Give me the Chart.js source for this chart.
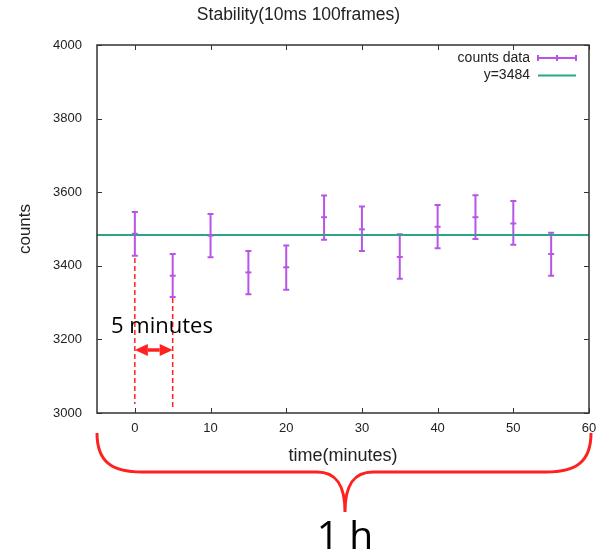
<!DOCTYPE html>
<html>
<head>
<meta charset="utf-8">
<script src="https://cdn.jsdelivr.net/npm/chart.js@4"></script>
<style>
    html, body { margin: 0; padding: 0; background: #ffffff; }
    #wrap { width: 597px; height: 553px; position: relative; }
</style>
</head>
<body>
<div id="wrap"><canvas id="stabilityChart"></canvas></div>
<script>
// values
const times = [0, 5, 10, 15, 20, 25, 30, 35, 40, 45, 50, 55];
const counts = [3487, 3373, 3482, 3382, 3396, 3532, 3499, 3424, 3506, 3532, 3515, 3432];
const countsLow = [3427, 3315, 3423, 3323, 3335, 3471, 3440, 3365, 3448, 3473, 3457, 3373];
const countsHigh = [3546, 3432, 3541, 3440, 3455, 3591, 3561, 3486, 3565, 3592, 3576, 3490];
const fitValue = 3484;
const xRange = [-5, 60];
const xTicks = [0, 10, 20, 30, 40, 50, 60];
const yRange = [3000, 4000];
const yStep = 200;

const PURPLE = '#b855e8';
const GREEN = '#2ba585';
const RED = '#ff2020';
const AXIS = '#333333';
const FONT = "'Liberation Sans', Arial, sans-serif";

// error bars, drawn through the chart scales
const errorBars = {
    id: 'errorBars',
    beforeDatasetsDraw(chart) {
        const { ctx, scales: { x, y }, chartArea } = chart;
        ctx.save();
        ctx.beginPath();
        ctx.rect(chartArea.left, chartArea.top, chartArea.width, chartArea.height);
        ctx.clip();
        ctx.strokeStyle = PURPLE;
        ctx.lineWidth = 2;
        times.forEach((t, i) => {
            const px = x.getPixelForValue(t);
            const lo = y.getPixelForValue(countsLow[i]);
            const hi = y.getPixelForValue(countsHigh[i]);
            ctx.beginPath();
            ctx.moveTo(px, lo); ctx.lineTo(px, hi);
            ctx.moveTo(px - 3, lo); ctx.lineTo(px + 3, lo);
            ctx.moveTo(px - 3, hi); ctx.lineTo(px + 3, hi);
            ctx.stroke();
        });
        ctx.restore();
    }
};

// frame, inward ticks, legend and the red notes
const frameAndNotes = {
    id: 'frameAndNotes',
    afterDraw(chart) {
        const { ctx, scales: { x, y }, chartArea: a } = chart;
        ctx.save();

        ctx.strokeStyle = AXIS;
        ctx.lineWidth = 1;
        ctx.beginPath();
        x.ticks.forEach(t => {
            const px = Math.round(x.getPixelForValue(t.value)) + 0.5;
            ctx.moveTo(px, a.bottom); ctx.lineTo(px, a.bottom - 5);
            ctx.moveTo(px, a.top); ctx.lineTo(px, a.top + 5);
        });
        y.ticks.forEach(t => {
            const py = Math.round(y.getPixelForValue(t.value)) + 0.5;
            ctx.moveTo(a.left, py); ctx.lineTo(a.left + 5, py);
            ctx.moveTo(a.right, py); ctx.lineTo(a.right - 5, py);
        });
        ctx.stroke();
        ctx.lineWidth = 1.5;
        ctx.strokeRect(a.left, a.top, a.width, a.height);

        // legend
        ctx.font = '14px ' + FONT;
        ctx.fillStyle = '#222';
        ctx.textAlign = 'right';
        ctx.textBaseline = 'middle';
        const lx0 = a.right - 51, lx1 = a.right - 13;
        chart.data.datasets.forEach((ds, i) => {
            const ly = a.top + 13 + i * 17.5;
            ctx.fillText(ds.label, lx0 - 8, ly);
            ctx.strokeStyle = ds.borderColor;
            ctx.lineWidth = 2;
            ctx.beginPath();
            ctx.moveTo(lx0, ly); ctx.lineTo(lx1, ly);
            if (i === 0) {
                const mid = (lx0 + lx1) / 2;
                [lx0, mid, lx1].forEach(px => { ctx.moveTo(px, ly - 3); ctx.lineTo(px, ly + 3); });
            }
            ctx.stroke();
        });

        // 5 minutes marker
        const x0 = x.getPixelForValue(0);
        const x5 = x.getPixelForValue(5);
        ctx.strokeStyle = RED;
        ctx.lineWidth = 1.5;
        ctx.setLineDash([5, 3]);
        ctx.beginPath();
        ctx.moveTo(x0, 258); ctx.lineTo(x0, 404);
        ctx.moveTo(x5, 298); ctx.lineTo(x5, 408);
        ctx.stroke();
        ctx.setLineDash([]);

        const ay = 350, head = 13;
        ctx.fillStyle = RED;
        ctx.lineWidth = 3.5;
        ctx.beginPath();
        ctx.moveTo(x0 + head, ay); ctx.lineTo(x5 - head, ay);
        ctx.stroke();
        ctx.beginPath();
        ctx.moveTo(x0, ay); ctx.lineTo(x0 + head, ay - 6); ctx.lineTo(x0 + head, ay + 6); ctx.closePath();
        ctx.moveTo(x5, ay); ctx.lineTo(x5 - head, ay - 6); ctx.lineTo(x5 - head, ay + 6); ctx.closePath();
        ctx.fill();

        ctx.fillStyle = '#000';
        ctx.font = "22px 'Open Sans', sans-serif";
        ctx.textAlign = 'left';
        ctx.textBaseline = 'alphabetic';
        ctx.fillText('5 minutes', 111, 333);

        // brace under the axis
        const bl = a.left, br = a.right + 2, bc = (a.left + a.right) / 2 + 2;
        ctx.strokeStyle = RED;
        ctx.lineWidth = 3;
        ctx.beginPath();
        ctx.moveTo(bl, 433);
        ctx.bezierCurveTo(bl, 462, bl + 15, 472, bl + 45, 472);
        ctx.lineTo(bc - 28, 472);
        ctx.bezierCurveTo(bc - 8, 472, bc, 486, bc, 512);
        ctx.bezierCurveTo(bc, 486, bc + 8, 472, bc + 28, 472);
        ctx.lineTo(br - 45, 472);
        ctx.bezierCurveTo(br - 15, 472, br, 462, br, 433);
        ctx.stroke();

        ctx.fillStyle = '#000';
        ctx.font = "39px 'Open Sans', sans-serif";
        ctx.textAlign = 'center';
        ctx.fillText('1 h', bc, 549);

        ctx.restore();
    }
};

new Chart(document.getElementById('stabilityChart').getContext('2d'), {
    type: 'scatter',
    data: {
        datasets: [{
            label: 'counts data',
            data: times.map((t, i) => ({ x: t, y: counts[i] })),
            borderColor: PURPLE,
            backgroundColor: PURPLE,
            pointStyle: 'line',
            pointRadius: 3,
            borderWidth: 2
        }, {
            label: 'y=' + fitValue,
            type: 'line',
            data: xRange.map(v => ({ x: v, y: fitValue })),
            borderColor: GREEN,
            borderWidth: 2,
            pointRadius: 0
        }]
    },
    options: {
        responsive: true,
        maintainAspectRatio: false,
        animation: false,
        layout: { padding: 0 },
        plugins: {
            legend: { display: false },
            tooltip: { enabled: false },
            title: {
                display: true,
                text: 'Stability(10ms 100frames)',
                color: '#222',
                font: { family: FONT, size: 17.5, weight: 'normal' },
                padding: { top: 5, bottom: 19 }
            }
        },
        scales: {
            x: {
                type: 'linear',
                min: xRange[0],
                max: xRange[1],
                afterBuildTicks: scale => { scale.ticks = xTicks.map(v => ({ value: v })); },
                afterFit: scale => {
                    scale.height = 140;
                    scale.paddingLeft = 0;
                    scale.paddingRight = 8;
                },
                grid: { display: false, drawTicks: false },
                border: { display: false },
                ticks: { color: '#222', padding: 8, font: { family: FONT, size: 13 }, callback: v => String(v) },
                title: {
                    display: true,
                    text: 'time(minutes)',
                    color: '#222',
                    font: { family: FONT, size: 18 },
                    padding: { top: 4, bottom: 86 }
                }
            },
            y: {
                min: yRange[0],
                max: yRange[1],
                afterFit: scale => { scale.width = 97; },
                grid: { display: false, drawTicks: false },
                border: { display: false },
                ticks: { stepSize: yStep, color: '#222', padding: 15, font: { family: FONT, size: 13 }, callback: v => String(v) },
                title: {
                    display: true,
                    text: 'counts',
                    color: '#222',
                    font: { family: FONT, size: 17 },
                    padding: { top: 15, bottom: 0 }
                }
            }
        }
    },
    plugins: [errorBars, frameAndNotes]
});
</script>
</body>
</html>
